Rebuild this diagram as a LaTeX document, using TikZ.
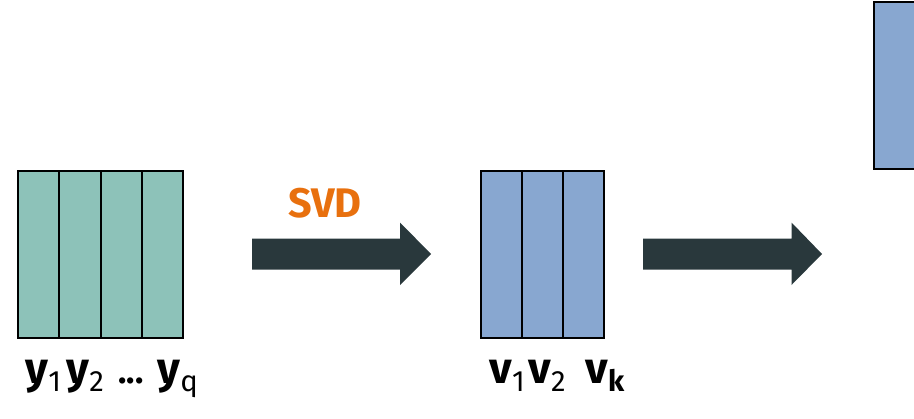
\documentclass[tikz,border=0pt]{standalone}
\usepackage{fontspec}
\setmainfont{Fira Sans}

\definecolor{colgreen}{RGB}{141,194,185}
\definecolor{colblue}{RGB}{136,167,208}
\definecolor{colarrow}{RGB}{41,56,60}
\definecolor{colsvd}{RGB}{232,112,14}

\newcommand{\bigfnt}{\fontsize{33}{33}\selectfont}
\newcommand{\subfnt}{\fontsize{22}{22}\selectfont}
\newcommand{\veclab}[2]{{\bigfnt\bfseries #1}\raisebox{-6pt}{\subfnt #2}}

\tikzset{every picture/.style={line width=0.75pt},
	cell/.style={draw, line width=1.5pt},
	bigarrow/.style={draw opacity=0, fill=colarrow},
	lab/.style={anchor=base west, inner sep=0pt}}

\begin{document}
\begin{tikzpicture}[x=0.75pt,y=0.75pt,yscale=-1,xscale=1]
	\useasboundingbox (0,0) rectangle (914,418);

	%Shape: Rectangle [id:y columns]
	\foreach \i in {0,...,3}
		\draw [cell, fill=colgreen] (18+41.25*\i,171) rectangle (18+41.25*\i+41.25,338);
	%Shape: Rectangle [id:v columns]
	\foreach \i in {0,...,2}
		\draw [cell, fill=colblue] (481+41*\i,171) rectangle (481+41*\i+41,338);
	%Shape: Rectangle [id:right column]
	\draw [cell, fill=colblue] (873.5,2) rectangle (940,168.5);

	%Shape: Right Arrow [id:svd arrow]
	\draw [bigarrow] (252,238.5) -- (400,238.5) -- (400,222.5) -- (431,254) -- (400,285) -- (400,269.5) -- (252,269.5) -- cycle ;
	%Shape: Right Arrow [id:next arrow]
	\draw [bigarrow] (643,238.5) -- (791.5,238.5) -- (791.5,222.5) -- (822,254) -- (791.5,285) -- (791.5,269.5) -- (643,269.5) -- cycle ;

	% Text Node
	\node (svd) [anchor=base, inner sep=0pt, text=colsvd] at (325,217) {\fontsize{31}{31}\selectfont\bfseries SVD};
	% Text Node
	\node (y1) [lab] at (25,383) {\veclab{y}{1}};
	\node (y2) [lab] at (66,383) {\veclab{y}{2}};
	\node (ydots) [lab] at (118,383) {\fontsize{26}{26}\selectfont\bfseries ...};
	\node (yq) [lab] at (157,383) {\veclab{y}{q}};
	% Text Node
	\node (v1) [lab] at (489,383) {\veclab{v}{1}};
	\node (v2) [lab] at (528,383) {\veclab{v}{2}};
	\node (vk) [lab] at (585,383) {\veclab{v}{\bfseries k}};
\end{tikzpicture}
\end{document}
